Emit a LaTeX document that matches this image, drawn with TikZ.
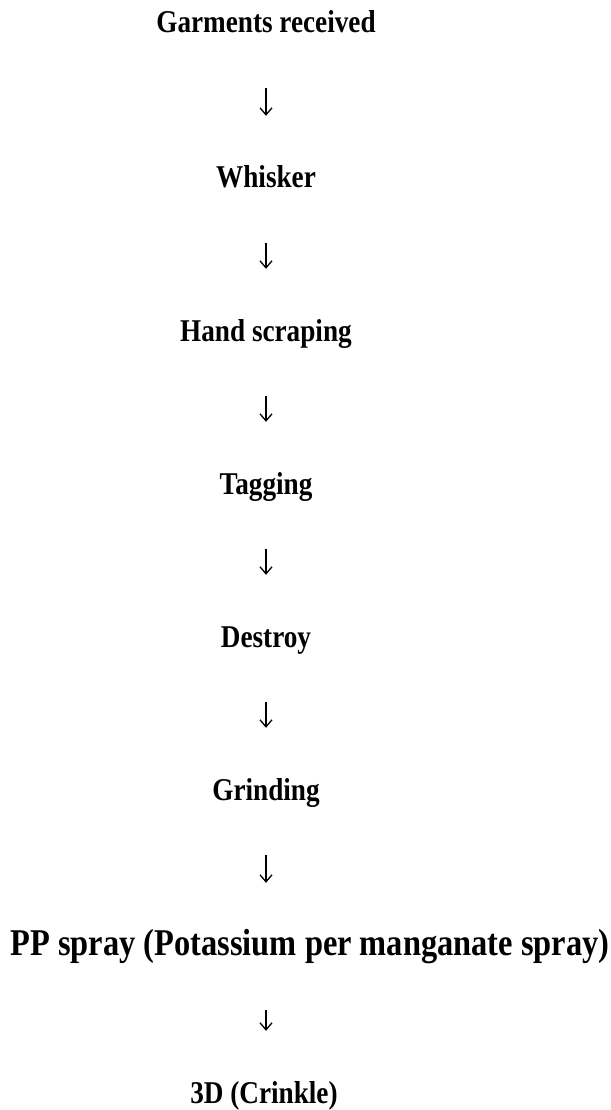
\documentclass[tikz,border=0pt]{standalone}
\usepackage{fontspec}
\setmainfont{Liberation Serif}
\newfontfamily\condserif[FakeStretch=0.858]{Liberation Serif}
\usetikzlibrary{arrows.meta}
\tikzset{
  stepnode/.style={font=\condserif\fontsize{31.7}{38}\selectfont\bfseries, inner sep=0pt, anchor=base, text height=21pt, text depth=7pt},
  bigstep/.style={stepnode, font=\condserif\fontsize{37.8}{44}\selectfont\bfseries},
  flowarrow/.style={line width=1.3pt, -{Straight Barb[length=7pt,width=12pt,line width=1.3pt]}, shorten <=48pt, shorten >=51pt}
}
\begin{document}
\begin{tikzpicture}[x=1pt,y=-1pt]
\useasboundingbox (0,0) rectangle (610,1110);
\node[stepnode] (gr) at (266,33) {Garments received};
\node[stepnode] (wh) at (266,188) {Whisker};
\node[stepnode] (hs) at (266,341) {Hand scraping};
\node[stepnode] (tg) at (266,494) {Tagging};
\node[stepnode] (de) at (266,647) {Destroy};
\node[stepnode] (gd) at (266,800) {Grinding};
\node[bigstep] (pp) at (310,955) {PP spray (Potassium per manganate spray)};
\node[stepnode] (dd) at (264,1103) {3D (Crinkle)};
\draw[flowarrow] (gr.south) -- (wh.north);
\draw[flowarrow] (wh.south) -- (hs.north);
\draw[flowarrow] (hs.south) -- (tg.north);
\draw[flowarrow] (tg.south) -- (de.north);
\draw[flowarrow] (de.south) -- (gd.north);
\draw[flowarrow] (gd.south) -- (gd.south |- pp.north);
\draw[flowarrow] (pp.south -| gd.south) -- (dd.north -| gd.south);
\end{tikzpicture}
\end{document}
